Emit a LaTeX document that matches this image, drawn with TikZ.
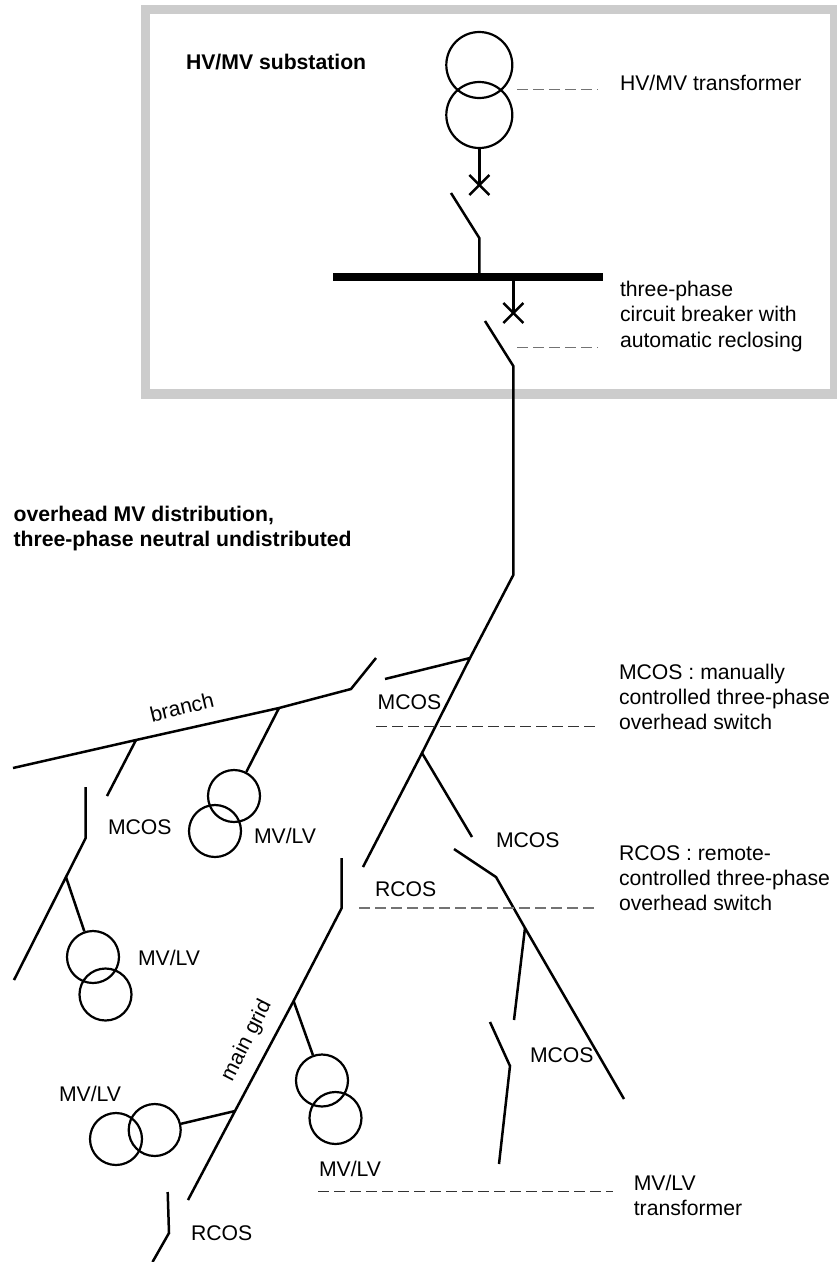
\documentclass[tikz,border=0pt]{standalone}
\usepackage{fontspec}
\setmainfont{Liberation Sans}
\tikzset{
  wire/.style={line width=2.5pt,line cap=butt,line join=miter,black},
  coil/.style={draw,circle,line width=2.2pt,inner sep=0pt,minimum size=#1,fill=none},
  lab/.style={anchor=base west,inner sep=0pt,outer sep=0pt,align=left,font=\fontsize{21.2}{25.6}\selectfont},
  blab/.style={lab,font=\fontsize{21.2}{25.6}\selectfont\bfseries},
  greylead/.style={line width=1.1pt,draw=black!55,dash pattern=on 11pt off 5pt},
  darklead/.style={line width=1pt,draw=black!80,dash pattern=on 11pt off 5pt},
  frame/.style={draw=black!20,line width=9.5pt,outer sep=0pt},
  bus/.style={line width=8pt,black},
}
\begin{document}
\begin{tikzpicture}[x=1pt,y=-1pt]
\useasboundingbox (0,0) rectangle (836,1262);
% frame
\node[frame,inner sep=0pt,minimum width=689pt,minimum height=384.5pt,anchor=north west] (frm) at (145.5,9.5) {};
% substation coils
\node[coil=66pt] (T1) at (479.3,65) {};
\node[coil=66pt] (T2) at (479.3,115) {};
% coordinates
\coordinate (brkA) at (479.3,185);
\coordinate (bladeA) at (451,193);
\coordinate (kneeA) at (479.3,238);
\coordinate (busA) at (479.3,273);
\coordinate (busL) at (333.3,276.5);
\coordinate (busR) at (602.5,276.5);
\coordinate (busB) at (513.3,280);
\coordinate (brkB) at (513.3,313);
\coordinate (bladeB) at (485,321);
\coordinate (kneeB) at (513.3,366);
\coordinate (feedK) at (513.3,575);
\coordinate (j1) at (470,658);
\coordinate (j2) at (422,753);
\coordinate (feedE) at (363,867);
\coordinate (s1a) at (385,679);
\coordinate (s2a) at (472,837);
\coordinate (s3a) at (454,849);
\coordinate (s3k) at (496,877);
\coordinate (s3e) at (624,1099);
\coordinate (j3) at (525,928);
\coordinate (s4a) at (514,1020);
\coordinate (s4b) at (490,1022);
\coordinate (s4k) at (510,1066);
\coordinate (s4e) at (499,1164);
% branch
\coordinate (brL) at (13,768);
\coordinate (brK) at (351,689);
\coordinate (brE) at (376,658);
\coordinate (j4) at (136,740);
\coordinate (s5a) at (107,796);
\coordinate (j5) at (279,708);
\coordinate (s6a) at (85.7,787);
\coordinate (s6k) at (85.7,838);
\coordinate (s6e) at (14,980);
\coordinate (j6) at (66,877);
% main grid
\coordinate (mgT) at (341.7,858);
\coordinate (mgK) at (341.7,908);
\coordinate (mgE) at (188,1200);
\coordinate (j7) at (293.6,1001);
\coordinate (j8) at (235,1111);
\coordinate (s7a) at (167.7,1192);
\coordinate (s7k) at (169,1233);
\coordinate (s7e) at (152.5,1262);
% MV/LV coils
\node[coil=52pt] (A1) at (234,796) {};
\node[coil=52pt] (A2) at (215,831) {};
\node[coil=52pt] (B1) at (93,957) {};
\node[coil=52pt] (B2) at (105.5,994.5) {};
\node[coil=52pt] (C1) at (322,1080.5) {};
\node[coil=52pt] (C2) at (335.5,1118) {};
\node[coil=52pt] (D1) at (154.7,1130) {};
\node[coil=52pt] (D2) at (116,1139) {};
% substation wires
\draw[wire] (T2) -- (brkA);
\draw[wire] (brkA) ++(-10,-10) -- ++(20,20);
\draw[wire] (brkA) ++(10,-10) -- ++(-20,20);
\draw[wire] (bladeA) -- (kneeA) -- (busA);
\draw[bus] (busL) -- (busR);
\draw[wire] (busB) -- (brkB);
\draw[wire] (brkB) ++(-10,-10) -- ++(20,20);
\draw[wire] (brkB) ++(10,-10) -- ++(-20,20);
\draw[wire] (bladeB) -- (kneeB) -- (feedK) -- (j1) -- (j2) -- (feedE);
% network wires
\draw[wire] (j1) -- (s1a);
\draw[wire] (j2) -- (s2a);
\draw[wire] (s3a) -- (s3k) -- (j3) -- (s3e);
\draw[wire] (j3) -- (s4a);
\draw[wire] (s4b) -- (s4k) -- (s4e);
\draw[wire] (brL) -- (j4) -- (j5) -- (brK) -- (brE);
\draw[wire] (j4) -- (s5a);
\draw[wire] (j5) -- (A1);
\draw[wire] (s6a) -- (s6k) -- (j6) -- (s6e);
\draw[wire] (j6) -- (B1);
\draw[wire] (mgT) -- (mgK) -- (j7) -- (j8) -- (mgE);
\draw[wire] (j7) -- (C1);
\draw[wire] (j8) -- (D1);
\draw[wire] (s7a) -- (s7k) -- (s7e);
% leaders
\coordinate (la1) at (517,89.5); \coordinate (la2) at (598,89.5);
\coordinate (lb1) at (517,347.7); \coordinate (lb2) at (598,347.7);
\coordinate (lc1) at (376,726); \coordinate (lc2) at (596,726);
\coordinate (ld1) at (359,908); \coordinate (ld2) at (596,908);
\coordinate (le1) at (318,1191); \coordinate (le2) at (613,1191);
\draw[greylead] (la1) -- (la2);
\draw[greylead] (lb1) -- (lb2);
\draw[darklead] (lc1) -- (lc2);
\draw[greylead] (ld1) -- (ld2);
\draw[darklead] (le1) -- (le2);
% labels
\node[blab] (t1) at (186,69) {HV/MV substation};
\node[lab] (t2) at (620,90) {HV/MV transformer};
\node[lab] (t3a) at (620,296) {three-phase};
\node[lab] (t3b) at (620,321.5) {circuit breaker with};
\node[lab] (t3c) at (620,347) {automatic reclosing};
\node[blab] (t4a) at (13.6,521) {overhead MV distribution,};
\node[blab] (t4b) at (13.6,546) {three-phase neutral undistributed};
\node[lab] (t5) at (377.7,709) {MCOS};
\node[lab] (t6a) at (619,679) {MCOS : manually};
\node[lab] (t6b) at (619,704) {controlled three-phase};
\node[lab] (t6c) at (619,729) {overhead switch};
\node[lab] (t7) at (496,847) {MCOS};
\node[lab] (t8) at (375,896) {RCOS};
\node[lab] (t9a) at (619,860.7) {RCOS : remote-};
\node[lab] (t9b) at (619,885.7) {controlled three-phase};
\node[lab] (t9c) at (619,910.7) {overhead switch};
\node[lab] (t10) at (108,834.7) {MCOS};
\node[lab] (t11) at (254,843) {MV/LV};
\node[lab] (t12) at (138,965) {MV/LV};
\node[lab] (t13) at (59,1101.7) {MV/LV};
\node[lab] (t14) at (319,1176.7) {MV/LV};
\node[lab] (t15a) at (633.8,1190) {MV/LV};
\node[lab] (t15b) at (633.8,1215.7) {transformer};
\node[lab] (t16) at (191,1240.7) {RCOS};
\node[lab] (t17) at (530,1062.7) {MCOS};
\node[lab,rotate=13.5] (t18) at (152,722) {branch};
\node[lab,rotate=63] (t19) at (232,1082) {main grid};
\end{tikzpicture}
\end{document}
